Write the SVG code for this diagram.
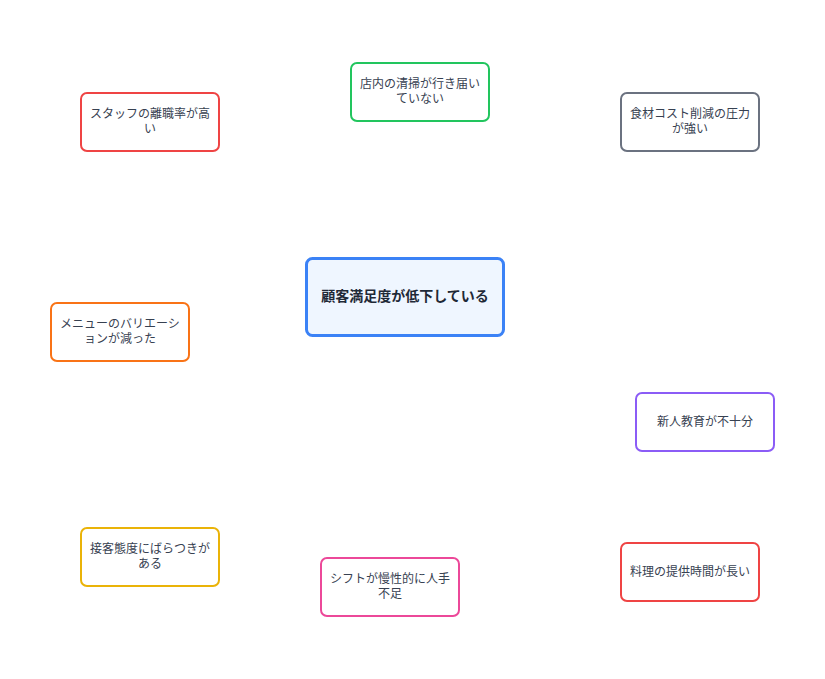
<svg xmlns="http://www.w3.org/2000/svg" width="825" height="679" viewBox="0 0 825 679">
<style>
.n rect{fill:#ffffff;stroke-width:2}
.n text{font-family:"Noto Sans CJK JP","Noto Sans",sans-serif;font-size:12px;fill:#374151;text-anchor:middle}
.c rect{fill:#eff6ff;stroke:#3b82f6;stroke-width:3}
.c text{font-family:"Noto Sans CJK JP","Noto Sans",sans-serif;font-size:14px;font-weight:bold;fill:#1f2937;text-anchor:middle}
</style>
<rect width="825" height="679" fill="#ffffff"/>
<g id="connectors"></g>
<g id="center" class="c">
<rect x="306.5" y="258.5" width="197" height="77" rx="6"/>
<text x="405" y="301">顧客満足度が低下している</text>
</g>
<g id="n1" class="n">
<rect x="81" y="93" width="138" height="58" rx="6" stroke="#ef4444"/>
<text x="150" y="118">スタッフの離職率が高</text>
<text x="150" y="133">い</text>
</g>
<g id="n2" class="n">
<rect x="351" y="63" width="138" height="58" rx="6" stroke="#22c55e"/>
<text x="420" y="88">店内の清掃が行き届い</text>
<text x="420" y="103">ていない</text>
</g>
<g id="n3" class="n">
<rect x="621" y="93" width="138" height="58" rx="6" stroke="#6b7280"/>
<text x="690" y="118">食材コスト削減の圧力</text>
<text x="690" y="133">が強い</text>
</g>
<g id="n4" class="n">
<rect x="51" y="303" width="138" height="58" rx="6" stroke="#f97316"/>
<text x="120" y="328">メニューのバリエーシ</text>
<text x="120" y="343">ョンが減った</text>
</g>
<g id="n5" class="n">
<rect x="636" y="393" width="138" height="58" rx="6" stroke="#8b5cf6"/>
<text x="705" y="426">新人教育が不十分</text>
</g>
<g id="n6" class="n">
<rect x="81" y="528" width="138" height="58" rx="6" stroke="#eab308"/>
<text x="150" y="553">接客態度にばらつきが</text>
<text x="150" y="568">ある</text>
</g>
<g id="n7" class="n">
<rect x="321" y="558" width="138" height="58" rx="6" stroke="#ec4899"/>
<text x="390" y="583">シフトが慢性的に人手</text>
<text x="390" y="598">不足</text>
</g>
<g id="n8" class="n">
<rect x="621" y="543" width="138" height="58" rx="6" stroke="#ef4444"/>
<text x="690" y="576">料理の提供時間が長い</text>
</g>
</svg>
